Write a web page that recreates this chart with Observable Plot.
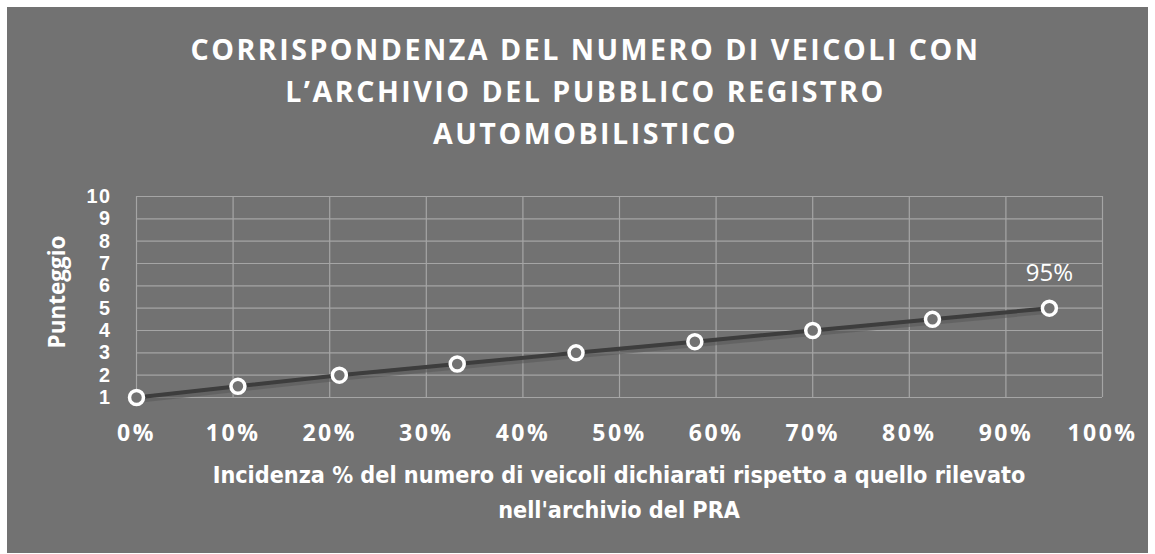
<!DOCTYPE html>
<html>
<head>
<meta charset="utf-8">
<script src="https://cdn.jsdelivr.net/npm/d3@7"></script>
<script src="https://cdn.jsdelivr.net/npm/@observablehq/plot@0.6"></script>
<style>
  html, body { margin: 0; padding: 0; background: #ffffff; }
  #frame { position: absolute; left: 7px; top: 7px; width: 1141px; height: 546px; background: #727272; overflow: hidden; }
  #title { position: absolute; left: 8px; top: 21px; width: 100%; text-align: center; color: #fff;
    font-family: "Open Sans", sans-serif; font-weight: bold; font-size: 28.6px; line-height: 42px; letter-spacing: 2.5px; }
  #chart { position: absolute; left: 0; top: 153px; }
  #xlabel { position: absolute; left: 129px; top: 450px; width: 966px; text-align: center; color: #fff; white-space: nowrap;
    font-family: "Liberation Sans Narrow", "DejaVu Sans Condensed", sans-serif; font-weight: bold; font-size: 23.2px; line-height: 35px; }
</style>
</head>
<body>
<div id="frame">
  <div id="title">CORRISPONDENZA DEL NUMERO DI VEICOLI CON<br>L’ARCHIVIO DEL PUBBLICO REGISTRO<br>AUTOMOBILISTICO</div>
  <div id="chart"></div>
  <div id="xlabel">Incidenza % del numero di veicoli dichiarati rispetto a quello rilevato<br>nell'archivio del PRA</div>
</div>
<script>
const incidenza = [0, 0.105, 0.21, 0.332, 0.455, 0.578, 0.70, 0.824, 0.945];
const punteggio = [1, 1.5, 2, 2.5, 3, 3.5, 4, 4.5, 5];
const xTicks = [0, 0.1, 0.2, 0.3, 0.4, 0.5, 0.6, 0.7, 0.8, 0.9, 1];
const yTicks = [1, 2, 3, 4, 5, 6, 7, 8, 9, 10];
const lastLabel = "95%";
const yLabel = "Punteggio";

const data = incidenza.map((x, i) => ({x, y: punteggio[i]}));
const bg = "#727272";
const grid = "#a5a5a5";

const plot = Plot.plot({
  width: 1141,
  height: 297,
  marginTop: 36,
  marginLeft: 129,
  marginRight: 46,
  marginBottom: 60,
  style: {background: "transparent", fontFamily: "Open Sans, sans-serif", overflow: "visible"},
  x: {domain: [0, 1], ticks: xTicks},
  y: {domain: [1, 10], ticks: yTicks},
  marks: [
    Plot.gridX(xTicks, {stroke: grid, strokeOpacity: 1, strokeWidth: 1.2}),
    Plot.gridY(yTicks, {stroke: grid, strokeOpacity: 1, strokeWidth: 1.2}),
    Plot.axisX(xTicks, {tickSize: 0, tickPadding: 27, tickFormat: d3.format(".0%"), fontSize: 23, fontWeight: "bold", fill: "white", label: null}),
    Plot.axisY(yTicks, {tickSize: 0, tickPadding: 25, fontSize: 19.8, fontWeight: "bold", fontFamily: "Liberation Sans, Arial, sans-serif", fill: "white", label: null}),
    Plot.text([yLabel], {frameAnchor: "left", textAnchor: "middle", rotate: -90, dx: -79, dy: -5, fontSize: 22.5, fontWeight: "bold", fill: "white"}),
    Plot.line(data, {x: "x", y: "y", stroke: "#5a5a5a", strokeWidth: 7, strokeOpacity: 0.6, dy: 2}),
    Plot.line(data, {x: "x", y: "y", stroke: "#3d3d3d", strokeWidth: 4}),
    Plot.dot(data, {x: "x", y: "y", r: 7, fill: bg, stroke: "white", strokeWidth: 3.5}),
    Plot.text(data.slice(-1), {x: "x", y: "y", text: () => lastLabel, dy: -35, fontSize: 24, fill: "white"})
  ]
});
d3.select(plot).selectAll("[aria-label='x-axis tick label'] text").style("letter-spacing", "2.5px");
d3.select(plot).selectAll("[aria-label='y-axis tick label'] text").style("letter-spacing", "1.5px");
document.getElementById("chart").appendChild(plot);
</script>
</body>
</html>
